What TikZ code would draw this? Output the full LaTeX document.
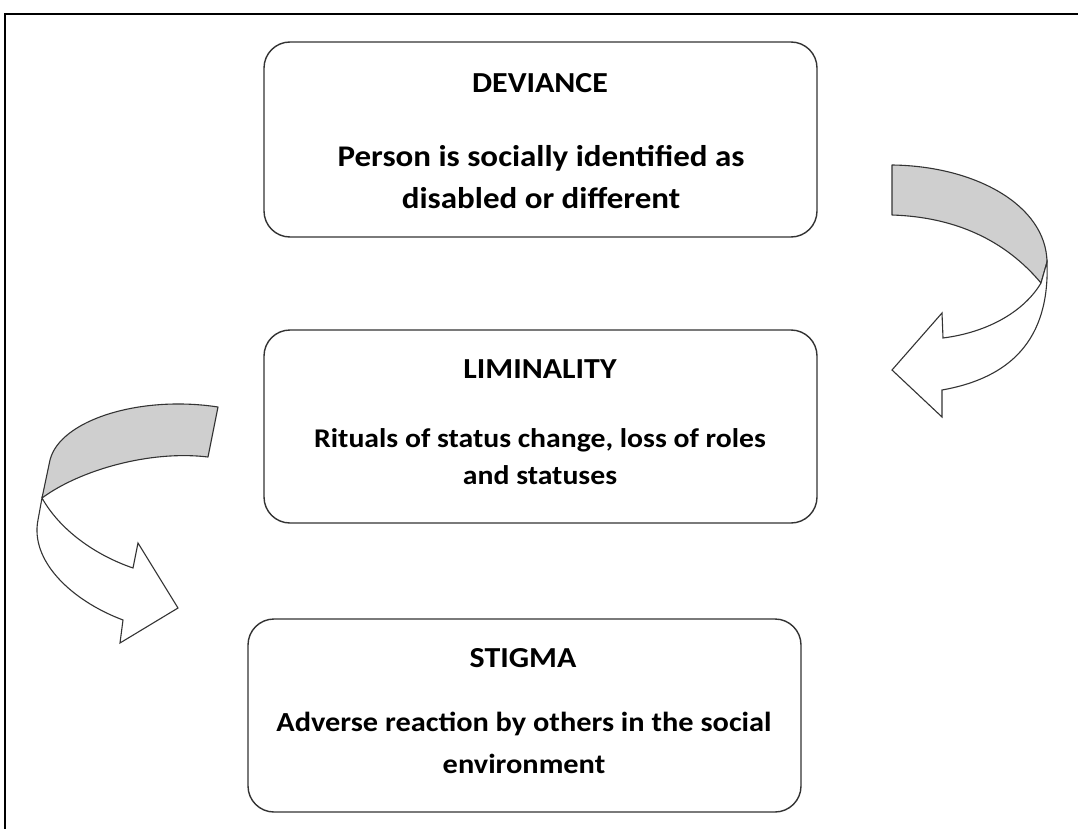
\documentclass[tikz,border=0pt]{standalone}
\usepackage{fontspec}
\setmainfont{Carlito}
\newfontfamily\boxfont[FakeStretch=1.1]{Carlito}
\definecolor{bandgray}{HTML}{CFCFCF}
\definecolor{edge}{HTML}{333333}
\tikzset{
  stagebox/.style={draw=edge, line width=1.4pt, rounded corners=26pt},
  titletext/.style={anchor=base, font=\boxfont\bfseries\fontsize{29}{34}\selectfont, inner sep=0pt},
  bodytext/.style={anchor=base, font=\boxfont\bfseries\fontsize{#1}{34}\selectfont, inner sep=0pt},
  band/.style={draw=edge, line width=1.1pt, fill=bandgray, line join=round},
  front/.style={draw=edge, line width=1.1pt, fill=white, line join=miter},
}
\begin{document}
\begin{tikzpicture}[x=1pt,y=-1pt]
\useasboundingbox (0,0) rectangle (1078,829);
\fill[white] (0,0) rectangle (1078,829);
% frame
\draw[line width=1.2pt] (5,829) -- (5,14) -- (1078,14);
% boxes
\draw[stagebox] (264,42) rectangle (817,237);
\draw[stagebox] (264,330) rectangle (817,523);
\draw[stagebox] (248,619) rectangle (801,812);
% texts
\node[titletext] (devt) at (540,93) {DEVIANCE};
\node[bodytext=30] (dev1) at (541,167) {Person is socially identified as};
\node[bodytext=30] (dev2) at (541,208) {disabled or different};
\node[titletext] (limt) at (540,378) {LIMINALITY};
\node[bodytext=27] (lim1) at (540,447) {Rituals of status change, loss of roles};
\node[bodytext=27] (lim2) at (540,484) {and statuses};
\node[titletext] (stit) at (523,667) {STIGMA};
\node[bodytext=27.6] (sti1) at (524,731) {Adverse reaction by others in the social};
\node[bodytext=27.6] (sti2) at (524,773) {environment};
% right curved arrow
\draw[band] (892,165) .. controls (975,166) and (1046,205) .. (1047,262)
  -- (1041,283) .. controls (1005,240) and (955,217) .. (892,215) -- cycle;
\draw[front] (1041,283) .. controls (1025,310) and (990,332) .. (943,338)
  -- (942,313) -- (892,370) -- (942,417) -- (942,390)
  .. controls (1010,378) and (1050,340) .. (1047,262) -- cycle;
% left curved arrow
\draw[band] (218,407) .. controls (140,395) and (60,420) .. (50,460)
  -- (42,498) .. controls (80,470) and (150,450) .. (208,457) -- cycle;
\draw[front] (42,498) .. controls (60,530) and (95,555) .. (133,568)
  -- (138,543) -- (178,608) -- (120,643) -- (123,620)
  .. controls (70,600) and (30,560) .. (38,520) -- cycle;
\end{tikzpicture}
\end{document}
